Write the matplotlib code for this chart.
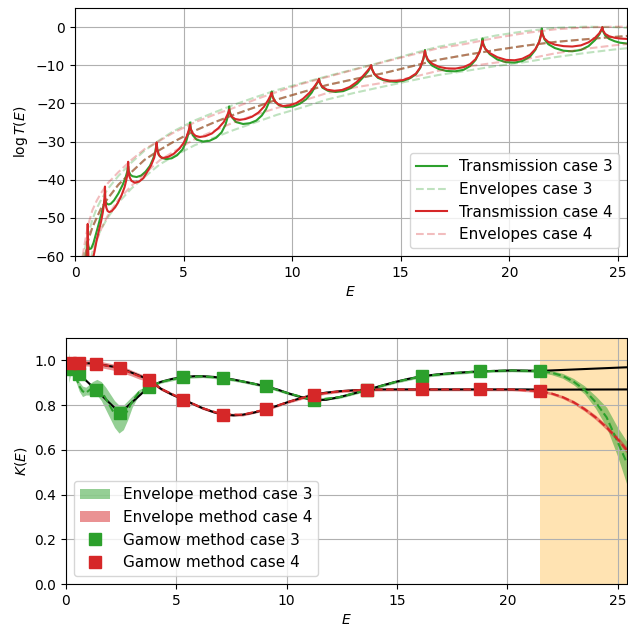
import matplotlib
matplotlib.use("Agg")
import matplotlib.pyplot as plt

# ---------------- top panel data ----------------
t4_E = [0.45, 0.55, 0.57, 0.585, 0.60, 0.63, 0.70, 0.80, 0.90, 1.00, 1.10, 1.20, 1.28, 1.33, 1.36, 1.38,
        1.40, 1.44, 1.50, 1.58, 1.70, 1.85, 2.00, 2.15, 2.28, 2.36, 2.42, 2.45,
        2.47, 2.52, 2.60, 2.76, 2.95, 3.15, 3.30, 3.50, 3.65, 3.72, 3.76,
        3.79, 3.85, 3.95, 4.06, 4.30, 4.55, 4.80, 5.00, 5.15, 5.24, 5.30,
        5.33, 5.40, 5.55, 5.75, 6.00, 6.30, 6.60, 6.85, 7.00, 7.07, 7.10,
        7.13, 7.22, 7.38, 7.59, 7.85, 8.15, 8.45, 8.70, 8.90, 9.00, 9.06,
        9.09, 9.18, 9.35, 9.58, 9.90, 10.20, 10.50, 10.80, 11.05, 11.18, 11.24,
        11.27, 11.38, 11.60, 11.95, 12.30, 12.65, 12.95, 13.25, 13.48, 13.60, 13.64,
        13.67, 13.78, 13.95, 14.20, 14.50, 14.80, 15.10, 15.40, 15.70, 15.90, 16.05, 16.12,
        16.15, 16.25, 16.45, 16.75, 17.10, 17.50, 17.90, 18.20, 18.45, 18.63, 18.72, 18.77,
        18.80, 18.90, 19.10, 19.45, 19.85, 20.25, 20.60, 20.95, 21.20, 21.38, 21.46, 21.50,
        21.53, 21.62, 21.80, 22.10, 22.50, 22.90, 23.30, 23.65, 23.95, 24.15, 24.25, 24.29,
        24.32, 24.42, 24.60, 24.85, 25.10, 25.40]
t4_logT = [-72, -64, -58, -51.6, -57.0, -62.0, -63.5, -61.5, -58.8, -55.8, -53.3, -51.0, -48.6, -46.5, -44.5, -41.8,
           -45.5, -47.3, -48.2, -48.5, -48.2, -47.2, -45.8, -44.0, -42.0, -40.2, -38.4, -35.3,
           -37.8, -39.4, -40.3, -40.8, -40.5, -39.6, -38.2, -36.3, -34.2, -32.4, -30.2,
           -32.0, -33.4, -34.1, -34.3, -34.0, -33.2, -31.9, -30.4, -28.6, -27.0, -25.6,
           -26.6, -27.7, -28.5, -28.8, -28.6, -27.9, -26.5, -24.9, -23.2, -22.3, -21.7,
           -22.6, -23.5, -24.1, -24.3, -24.1, -23.5, -22.4, -20.9, -19.1, -18.0, -17.2,
           -18.1, -19.3, -20.2, -20.7, -20.5, -19.9, -18.8, -17.2, -15.4, -14.3, -13.6,
           -14.5, -15.6, -16.4, -16.7, -16.5, -15.7, -14.5, -12.9, -11.4, -10.5, -10.0,
           -10.9, -12.2, -13.1, -13.7, -14.05, -14.1, -13.9, -13.3, -12.2, -10.6, -8.2, -6.2,
           -7.2, -8.5, -9.6, -10.4, -10.8, -10.9, -10.5, -9.7, -8.4, -6.6, -5.0, -3.6,
           -4.6, -5.7, -6.8, -7.9, -8.6, -8.7, -8.3, -7.3, -5.8, -3.9, -2.3, -0.96,
           -1.9, -3.0, -3.9, -4.6, -5.0, -5.1, -4.8, -4.0, -2.8, -1.6, -0.6, 0.0,
           -0.9, -1.8, -2.4, -2.8, -3.0, -3.1]

t3_E = [0.45, 0.52, 0.56, 0.585, 0.61, 0.66, 0.75, 0.85, 0.95, 1.05, 1.15, 1.25, 1.32, 1.36, 1.38,
        1.41, 1.47, 1.55, 1.65, 1.80, 2.00, 2.20, 2.33, 2.41, 2.45,
        2.48, 2.55, 2.65, 2.84, 3.05, 3.25, 3.45, 3.60, 3.70, 3.76,
        3.79, 3.87, 4.00, 4.20, 4.45, 4.70, 4.95, 5.12, 5.22, 5.28, 5.30,
        5.33, 5.42, 5.60, 5.90, 6.20, 6.50, 6.75, 6.93, 7.03, 7.08, 7.10,
        7.13, 7.22, 7.42, 7.74, 8.05, 8.35, 8.60, 8.80, 8.95, 9.03, 9.06,
        9.09, 9.20, 9.40, 9.73, 10.05, 10.35, 10.65, 10.90, 11.08, 11.19, 11.24,
        11.27, 11.40, 11.65, 12.00, 12.35, 12.70, 13.00, 13.28, 13.50, 13.60, 13.64,
        13.67, 13.78, 13.95, 14.20, 14.50, 14.80, 15.10, 15.40, 15.70, 15.90, 16.05, 16.12,
        16.15, 16.25, 16.45, 16.75, 17.10, 17.50, 17.90, 18.20, 18.45, 18.63, 18.72, 18.77,
        18.80, 18.90, 19.10, 19.45, 19.85, 20.25, 20.60, 20.95, 21.20, 21.38, 21.46, 21.50,
        21.53, 21.62, 21.80, 22.10, 22.50, 22.90, 23.30, 23.65, 23.95, 24.15, 24.25, 24.29,
        24.32, 24.42, 24.60, 24.85, 25.10, 25.40]
t3_logT = [-66, -61, -58.2, -56.0, -57.3, -58.2, -58.0, -56.6, -54.6, -52.5, -50.3, -48.2, -46.6, -45.8, -45.0,
           -45.8, -46.3, -46.5, -46.3, -45.4, -43.6, -41.3, -39.4, -37.8, -36.5,
           -37.8, -38.7, -39.1, -39.3, -38.9, -37.9, -36.4, -34.5, -32.6, -30.4,
           -32.2, -33.6, -34.3, -34.6, -34.4, -33.6, -32.1, -30.0, -28.0, -26.4, -25.0,
           -26.6, -28.3, -29.5, -30.0, -29.8, -29.0, -27.6, -25.6, -23.6, -22.0, -20.8,
           -22.2, -23.6, -24.9, -25.4, -25.2, -24.5, -23.2, -21.5, -19.5, -17.9, -16.9,
           -17.9, -19.5, -20.5, -21.0, -20.8, -20.1, -18.9, -17.2, -15.4, -14.3, -13.5,
           -14.6, -15.9, -16.7, -17.0, -16.8, -16.0, -14.8, -13.1, -11.6, -10.6, -10.0,
           -10.9, -12.3, -13.3, -13.9, -14.25, -14.35, -14.1, -13.5, -12.4, -10.7, -8.2, -6.0,
           -7.3, -8.8, -10.1, -11.0, -11.5, -11.6, -11.2, -10.2, -8.6, -6.5, -4.7, -3.0,
           -4.3, -5.7, -7.1, -8.5, -9.2, -9.3, -8.9, -7.8, -6.0, -3.8, -2.0, -0.35,
           -1.6, -3.2, -4.5, -5.5, -6.2, -6.35, -6.0, -5.0, -3.4, -1.9, -0.7, 0.0,
           -1.1, -2.2, -3.1, -3.7, -4.1, -4.3]

env_E = [0.35, 0.5, 0.6, 0.8, 1.0, 1.2, 1.5, 2.0, 2.6, 3.2, 3.9, 4.5, 5.5, 6.4, 7.3, 8.3, 9.3, 10.5,
         11.6, 12.9, 14.2, 15.5, 16.7, 18.0, 19.4, 20.7, 22.1, 23.5, 24.8, 25.5]
env_mid = [-66, -59, -56, -52.5, -50, -47.5, -45, -41.3, -38, -34.8, -32.2, -30.2, -27.2, -25, -23, -21,
           -19, -17, -15.2, -13.6, -12.1, -10.3, -8.6, -7.3, -6.0, -4.9, -3.9, -3.2, -2.6, -2.3]
env4_up = [-60, -55, -52, -48, -45.5, -43.5, -41, -38, -34.8, -32.0, -29.8, -27.8, -25.0, -23.0, -21.2,
           -19.0, -17.0, -14.8, -13.1, -11.1, -9.2, -7.3, -5.6, -4.4, -2.8, -1.6, -0.6, -0.1, 0.1, 0.1]
env4_lo = [-76, -70, -66, -60, -56, -53, -49.5, -45.2, -41.6, -38.5, -34.9, -32.8, -29.4, -27.2, -25.0,
           -23.0, -21.2, -19.3, -17.3, -15.8, -14.6, -13.2, -11.5, -10.4, -9.3, -8.5, -6.9, -5.7, -4.8, -4.4]
env3_up = [-61, -57, -54.5, -50.5, -47.5, -45.3, -42.5, -39.0, -35.5, -32.4, -29.6, -27.4, -24.5, -22.4,
           -20.4, -18.4, -16.5, -14.6, -12.9, -11.0, -9.1, -7.0, -5.2, -3.8, -2.2, -1.1, -0.2, 0.1, 0.0, -0.2]
env3_lo = [-72, -67, -64, -59, -55.5, -53, -50, -46, -42.3, -39.3, -36.0, -34.0, -31.0, -29.0, -27.0,
           -25.0, -23.0, -21.0, -19.0, -17.2, -15.6, -14.0, -12.6, -11.5, -10.2, -9.2, -7.9, -6.8, -5.9, -5.5]

# ---------------- bottom panel data ----------------
gamow_E = [0.2, 0.58, 1.38, 2.45, 3.76, 5.30, 7.10, 9.06, 11.24, 13.64, 16.12, 18.77, 21.50]
gamow_K3 = [0.960, 0.940, 0.866, 0.764, 0.881, 0.925, 0.921, 0.884, 0.822, 0.868, 0.929, 0.951, 0.952]
gamow_K4 = [0.990, 0.989, 0.985, 0.966, 0.914, 0.825, 0.757, 0.781, 0.847, 0.869, 0.870, 0.870, 0.862]

kline_E = [0.2, 0.58, 1.38, 2.45, 3.76, 4.3, 4.8, 5.3, 5.8, 6.2, 6.7, 7.1, 7.6, 8.0, 8.5, 9.06, 9.6, 10.1,
           10.7, 11.24, 11.8, 12.4, 13.0, 13.64, 14.3, 14.9, 15.5, 16.12, 16.8, 17.4, 18.1, 18.77, 19.5,
           20.2, 20.9, 21.5, 25.4]
kline3 = [0.960, 0.940, 0.866, 0.764, 0.881, 0.904, 0.917, 0.925, 0.929, 0.929, 0.926, 0.921, 0.914,
          0.906, 0.896, 0.884, 0.869, 0.852, 0.834, 0.822, 0.824, 0.836, 0.851, 0.868, 0.887, 0.903,
          0.917, 0.929, 0.937, 0.942, 0.947, 0.951, 0.953, 0.955, 0.954, 0.953, 0.969]
kline4 = [0.990, 0.989, 0.985, 0.966, 0.914, 0.873, 0.847, 0.826, 0.803, 0.786, 0.768, 0.758, 0.754,
          0.757, 0.766, 0.781, 0.798, 0.815, 0.833, 0.847, 0.856, 0.862, 0.866, 0.869, 0.870, 0.870,
          0.870, 0.870, 0.870, 0.870, 0.870, 0.870, 0.870, 0.870, 0.870, 0.869, 0.870]

kenv_E = [0.13, 0.2, 0.3, 0.45, 0.6, 0.75, 0.9, 1.05, 1.2, 1.4, 1.6, 1.8, 2.0, 2.2, 2.4, 2.6, 2.8, 3.0,
          3.3, 3.76, 4.3, 5.3, 6.2, 7.1, 8.0, 9.06, 10.1, 11.24, 12.4, 13.64, 14.9, 16.12, 17.4, 18.77,
          20.2, 21.5, 22.0, 22.5, 23.0, 23.5, 24.0, 24.5, 25.0, 25.4]
k3_mid = [0.97, 0.963, 0.952, 0.925, 0.885, 0.862, 0.855, 0.866, 0.878, 0.880, 0.862, 0.830, 0.795,
          0.760, 0.738, 0.745, 0.778, 0.815, 0.857, 0.881, 0.904, 0.925, 0.929, 0.921, 0.906, 0.884,
          0.852, 0.822, 0.836, 0.868, 0.903, 0.929, 0.942, 0.951, 0.955, 0.952, 0.945, 0.931, 0.905,
          0.868, 0.813, 0.745, 0.635, 0.545]
k3_lo = [0.90, 0.935, 0.935, 0.905, 0.862, 0.838, 0.845, 0.845, 0.850, 0.845, 0.820, 0.780, 0.740,
         0.700, 0.675, 0.690, 0.735, 0.790, 0.845, 0.874, 0.898, 0.919, 0.923, 0.915, 0.900, 0.878,
         0.846, 0.816, 0.830, 0.862, 0.897, 0.923, 0.936, 0.945, 0.949, 0.945, 0.936, 0.920, 0.891,
         0.850, 0.785, 0.700, 0.570, 0.450]
k3_hi = [1.035, 0.99, 0.97, 0.945, 0.905, 0.885, 0.880, 0.892, 0.905, 0.915, 0.905, 0.880, 0.850,
         0.820, 0.800, 0.800, 0.820, 0.840, 0.869, 0.888, 0.910, 0.931, 0.935, 0.927, 0.912, 0.890,
         0.858, 0.828, 0.842, 0.874, 0.909, 0.935, 0.948, 0.957, 0.961, 0.959, 0.954, 0.942, 0.919,
         0.886, 0.841, 0.790, 0.700, 0.640]
k4_mid = [0.995, 0.994, 0.993, 0.991, 0.990, 0.989, 0.988, 0.987, 0.986, 0.984, 0.981, 0.977, 0.973,
          0.969, 0.965, 0.958, 0.950, 0.942, 0.930, 0.914, 0.873, 0.826, 0.786, 0.758, 0.757, 0.781,
          0.815, 0.847, 0.862, 0.869, 0.870, 0.870, 0.870, 0.870, 0.870, 0.862, 0.852, 0.836, 0.813,
          0.782, 0.745, 0.700, 0.648, 0.600]
k4_lo = [0.982, 0.981, 0.980, 0.978, 0.977, 0.976, 0.975, 0.974, 0.972, 0.970, 0.967, 0.963, 0.959,
         0.955, 0.951, 0.944, 0.936, 0.929, 0.917, 0.903, 0.866, 0.820, 0.780, 0.752, 0.751, 0.775,
         0.809, 0.841, 0.856, 0.863, 0.864, 0.864, 0.864, 0.864, 0.864, 0.856, 0.846, 0.829, 0.805,
         0.773, 0.735, 0.689, 0.636, 0.586]
k4_hi = [1.008, 1.007, 1.006, 1.004, 1.003, 1.002, 1.001, 1.000, 0.999, 0.998, 0.995, 0.991, 0.987,
         0.983, 0.979, 0.972, 0.964, 0.955, 0.943, 0.925, 0.880, 0.832, 0.792, 0.764, 0.763, 0.787,
         0.821, 0.853, 0.868, 0.875, 0.876, 0.876, 0.876, 0.876, 0.876, 0.868, 0.858, 0.843, 0.821,
         0.791, 0.755, 0.711, 0.660, 0.614]
tail_start = 21.5

GREEN = "tab:green"
RED = "tab:red"

fig = plt.figure(figsize=(6.28, 6.26), dpi=100)

# ---- top axes ----
ax1 = fig.add_axes([75 / 628, 1 - 256 / 626, 551.5 / 628, 248 / 626])
ax1.plot(t3_E, t3_logT, color=GREEN, lw=1.5, label="Transmission case 3")
ax1.plot(env_E, env3_up, "--", color=GREEN, alpha=0.3, lw=1.5, label="Envelopes case 3")
ax1.plot(env_E, env3_lo, "--", color=GREEN, alpha=0.3, lw=1.5)
ax1.plot(env_E, env_mid, "--", color=GREEN, alpha=0.5, lw=1.5)
ax1.plot(t4_E, t4_logT, color=RED, lw=1.5, label="Transmission case 4")
ax1.plot(env_E, env4_up, "--", color=RED, alpha=0.3, lw=1.5, label="Envelopes case 4")
ax1.plot(env_E, env4_lo, "--", color=RED, alpha=0.3, lw=1.5)
ax1.plot(env_E, env_mid, "--", color=RED, alpha=0.5, lw=1.5)
ax1.set_xlim(0, 25.4)
ax1.set_ylim(-60, 5)
ax1.set_yticks([-60, -50, -40, -30, -20, -10, 0])
ax1.set_xticks([0, 5, 10, 15, 20, 25])
ax1.grid(True)
ax1.set_xlabel("$E$")
ax1.set_ylabel(r"$\log T(E)$")
ax1.legend(loc="lower right", fontsize=11)

# ---- bottom axes ----
ax2 = fig.add_axes([66 / 628, 1 - 584 / 626, 560.5 / 628, 246 / 626])
ax2.axvspan(tail_start, 26, color="orange", alpha=0.3, lw=0)
ax2.plot(kline_E, kline3, color="black", lw=1.5)
ax2.plot(kline_E, kline4, color="black", lw=1.5)
ax2.fill_between(kenv_E, k3_lo, k3_hi, color=GREEN, alpha=0.5, lw=0, label="Envelope method case 3")
ax2.fill_between(kenv_E, k4_lo, k4_hi, color=RED, alpha=0.5, lw=0, label="Envelope method case 4")
ax2.plot(kenv_E, k3_mid, "--", color=GREEN, lw=1.5)
ax2.plot(kenv_E, k4_mid, "--", color=RED, lw=1.5)
ax2.plot(gamow_E, gamow_K3, "s", color=GREEN, ms=8.5, label="Gamow method case 3")
ax2.plot(gamow_E, gamow_K4, "s", color=RED, ms=8.5, label="Gamow method case 4")
ax2.set_xlim(0, 25.4)
ax2.set_ylim(0, 1.1)
ax2.set_yticks([0.0, 0.2, 0.4, 0.6, 0.8, 1.0])
ax2.set_xticks([0, 5, 10, 15, 20, 25])
ax2.grid(True)
ax2.set_xlabel("$E$")
ax2.set_ylabel("$K(E)$")
ax2.legend(loc="lower left", fontsize=11)

fig.savefig("out.png", dpi=100)
